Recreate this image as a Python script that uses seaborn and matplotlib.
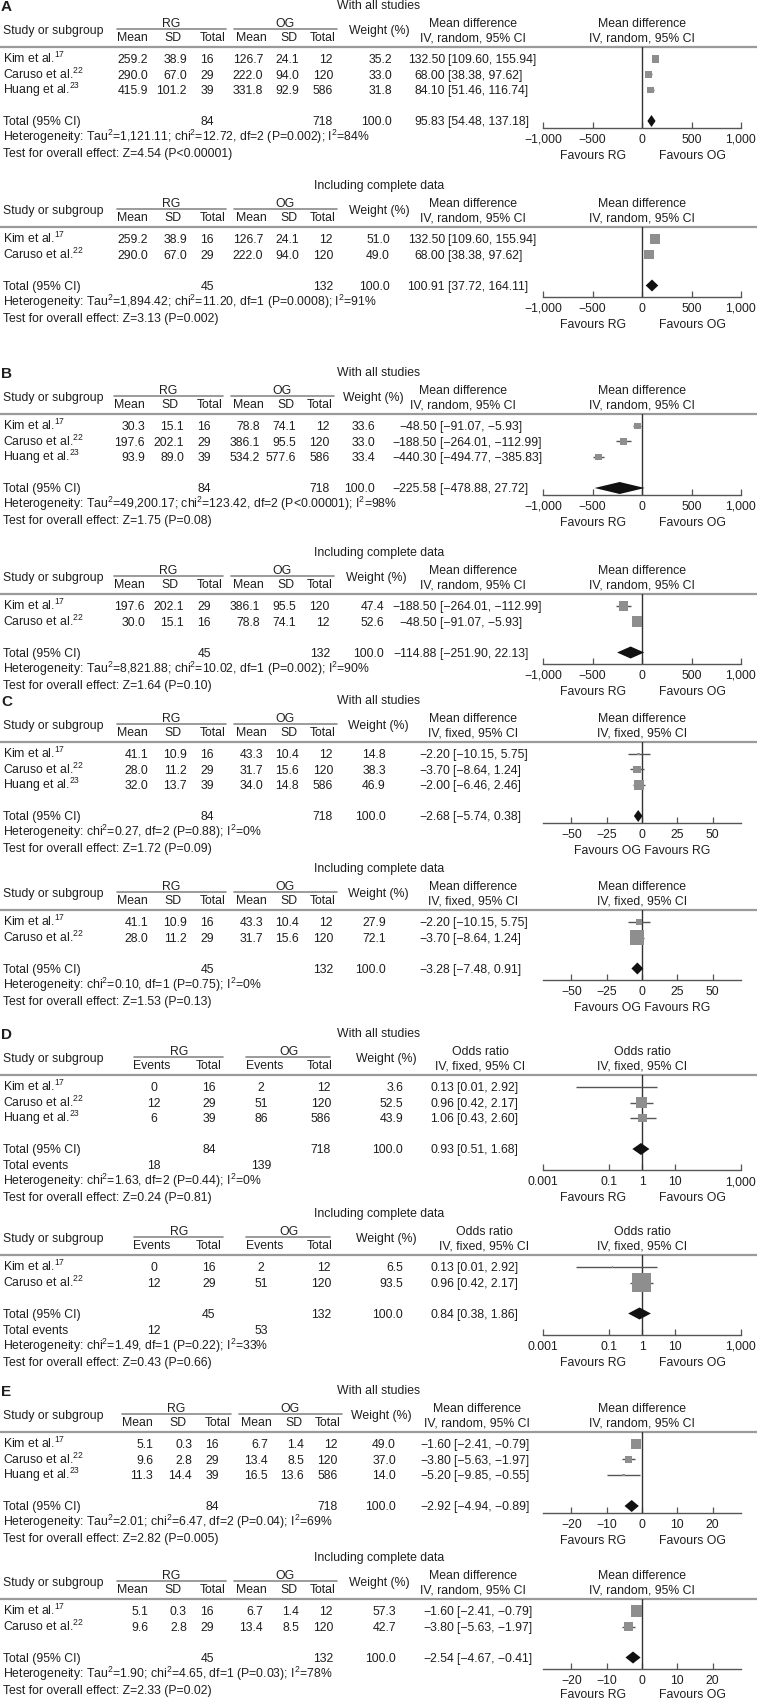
import matplotlib
matplotlib.use('Agg')
import matplotlib.pyplot as plt
import seaborn as sns
import pandas as pd

# ---------------- data ----------------
studies3 = ['Kim et al.', 'Caruso et al.', 'Huang et al.']
refs3 = ['17', '22', '23']
studies2 = ['Kim et al.', 'Caruso et al.']
refs2 = ['17', '22']

# A - with all studies
a1_rg_mean = [259.2, 290.0, 415.9]
a1_rg_sd = [38.9, 67.0, 101.2]
a1_rg_n = [16, 29, 39]
a1_og_mean = [126.7, 222.0, 331.8]
a1_og_sd = [24.1, 94.0, 92.9]
a1_og_n = [12, 120, 586]
a1_weight = [35.2, 33.0, 31.8]
a1_est = [132.50, 68.00, 84.10]
a1_lo = [109.60, 38.38, 51.46]
a1_hi = [155.94, 97.62, 116.74]
a1_total = [84, 718, 95.83, 54.48, 137.18]
a1_het = ['1,121.11', '12.72', '2', 'P=0.002', '84']
a1_z = ['4.54', 'P<0.00001']

# A - including complete data
a2_rg_mean = [259.2, 290.0]
a2_rg_sd = [38.9, 67.0]
a2_rg_n = [16, 29]
a2_og_mean = [126.7, 222.0]
a2_og_sd = [24.1, 94.0]
a2_og_n = [12, 120]
a2_weight = [51.0, 49.0]
a2_est = [132.50, 68.00]
a2_lo = [109.60, 38.38]
a2_hi = [155.94, 97.62]
a2_total = [45, 132, 100.91, 37.72, 164.11]
a2_het = ['1,894.42', '11.20', '1', 'P=0.0008', '91']
a2_z = ['3.13', 'P=0.002']

# B
b1_rg_mean = [30.3, 197.6, 93.9]
b1_rg_sd = [15.1, 202.1, 89.0]
b1_rg_n = [16, 29, 39]
b1_og_mean = [78.8, 386.1, 534.2]
b1_og_sd = [74.1, 95.5, 577.6]
b1_og_n = [12, 120, 586]
b1_weight = [33.6, 33.0, 33.4]
b1_est = [-48.50, -188.50, -440.30]
b1_lo = [-91.07, -264.01, -494.77]
b1_hi = [-5.93, -112.99, -385.83]
b1_total = [84, 718, -225.58, -478.88, 27.72]
b1_het = ['49,200.17', '123.42', '2', 'P<0.00001', '98']
b1_z = ['1.75', 'P=0.08']

b2_rg_mean = [197.6, 30.0]
b2_rg_sd = [202.1, 15.1]
b2_rg_n = [29, 16]
b2_og_mean = [386.1, 78.8]
b2_og_sd = [95.5, 74.1]
b2_og_n = [120, 12]
b2_weight = [47.4, 52.6]
b2_est = [-188.50, -48.50]
b2_lo = [-264.01, -91.07]
b2_hi = [-112.99, -5.93]
b2_total = [45, 132, -114.88, -251.90, 22.13]
b2_het = ['8,821.88', '10.02', '1', 'P=0.002', '90']
b2_z = ['1.64', 'P=0.10']

# C
c1_rg_mean = [41.1, 28.0, 32.0]
c1_rg_sd = [10.9, 11.2, 13.7]
c1_rg_n = [16, 29, 39]
c1_og_mean = [43.3, 31.7, 34.0]
c1_og_sd = [10.4, 15.6, 14.8]
c1_og_n = [12, 120, 586]
c1_weight = [14.8, 38.3, 46.9]
c1_est = [-2.20, -3.70, -2.00]
c1_lo = [-10.15, -8.64, -6.46]
c1_hi = [5.75, 1.24, 2.46]
c1_total = [84, 718, -2.68, -5.74, 0.38]
c1_het = [None, '0.27', '2', 'P=0.88', '0']
c1_z = ['1.72', 'P=0.09']

c2_rg_mean = [41.1, 28.0]
c2_rg_sd = [10.9, 11.2]
c2_rg_n = [16, 29]
c2_og_mean = [43.3, 31.7]
c2_og_sd = [10.4, 15.6]
c2_og_n = [12, 120]
c2_weight = [27.9, 72.1]
c2_est = [-2.20, -3.70]
c2_lo = [-10.15, -8.64]
c2_hi = [5.75, 1.24]
c2_total = [45, 132, -3.28, -7.48, 0.91]
c2_het = [None, '0.10', '1', 'P=0.75', '0']
c2_z = ['1.53', 'P=0.13']

# D (odds ratio)
d1_rg_ev = [0, 12, 6]
d1_rg_n = [16, 29, 39]
d1_og_ev = [2, 51, 86]
d1_og_n = [12, 120, 586]
d1_weight = [3.6, 52.5, 43.9]
d1_est = [0.13, 0.96, 1.06]
d1_lo = [0.01, 0.42, 0.43]
d1_hi = [2.92, 2.17, 2.60]
d1_total = [84, 718, 0.93, 0.51, 1.68]
d1_events = [18, 139]
d1_het = [None, '1.63', '2', 'P=0.44', '0']
d1_z = ['0.24', 'P=0.81']

d2_rg_ev = [0, 12]
d2_rg_n = [16, 29]
d2_og_ev = [2, 51]
d2_og_n = [12, 120]
d2_weight = [6.5, 93.5]
d2_est = [0.13, 0.96]
d2_lo = [0.01, 0.42]
d2_hi = [2.92, 2.17]
d2_total = [45, 132, 0.84, 0.38, 1.86]
d2_events = [12, 53]
d2_het = [None, '1.49', '1', 'P=0.22', '33']
d2_z = ['0.43', 'P=0.66']

# E
e1_rg_mean = [5.1, 9.6, 11.3]
e1_rg_sd = [0.3, 2.8, 14.4]
e1_rg_n = [16, 29, 39]
e1_og_mean = [6.7, 13.4, 16.5]
e1_og_sd = [1.4, 8.5, 13.6]
e1_og_n = [12, 120, 586]
e1_weight = [49.0, 37.0, 14.0]
e1_est = [-1.60, -3.80, -5.20]
e1_lo = [-2.41, -5.63, -9.85]
e1_hi = [-0.79, -1.97, -0.55]
e1_total = [84, 718, -2.92, -4.94, -0.89]
e1_het = ['2.01', '6.47', '2', 'P=0.04', '69']
e1_z = ['2.82', 'P=0.005']

e2_rg_mean = [5.1, 9.6]
e2_rg_sd = [0.3, 2.8]
e2_rg_n = [16, 29]
e2_og_mean = [6.7, 13.4]
e2_og_sd = [1.4, 8.5]
e2_og_n = [12, 120]
e2_weight = [57.3, 42.7]
e2_est = [-1.60, -3.80]
e2_lo = [-2.41, -5.63]
e2_hi = [-0.79, -1.97]
e2_total = [45, 132, -2.54, -4.67, -0.41]
e2_het = ['1.90', '4.65', '1', 'P=0.03', '78']
e2_z = ['2.33', 'P=0.02']

# axis ticks
big_ticks = [-1000, -500, 0, 500, 1000]
big_labels = ['\u22121,000', '\u2212500', '0', '500', '1,000']
c_ticks = [-50, -25, 0, 25, 50]
c_labels = ['\u221250', '\u221225', '0', '25', '50']
d_ticks = [0.001, 0.1, 1, 10, 1000]
d_labels = ['0.001', '0.1', '1', '10', '1,000']
e_ticks = [-20, -10, 0, 10, 20]
e_labels = ['\u221220', '\u221210', '0', '10', '20']

# ---------------- style ----------------
sns.set_theme(style='white')
base_font = 'Liberation Sans'
FS = 8.8
plt.rcParams['font.family'] = [base_font, 'DejaVu Sans']
plt.rcParams['mathtext.fontset'] = 'custom'
plt.rcParams['mathtext.rm'] = base_font

TXT = '#1e1e1e'
SQ = '#8e8e8e'
W, H = 757, 1700
X0, X1, XZ = 543, 741, 642   # plot area in pixels

fig = plt.figure(figsize=(W / 100, H / 100), dpi=100)
ax = fig.add_axes([0, 0, 1, 1])
ax.set_xlim(0, W)
ax.set_ylim(H, 0)
ax.axis('off')


def put(x, y, s, ha='left', size=None, **kw):
    ax.text(x, y + 4.4, s, ha=ha, va='baseline', fontsize=size or FS, color=TXT, **kw)


def sup(s):
    return '$^{\\mathregular{' + s + '}}$'


def num(v, d):
    return f'{v:,.{d}f}'.replace('-', '\u2212')


def block(b):
    t, dx = b['t'], b['dx']
    h = t + 42
    n = len(b['est'])
    rows = [h + 12 + 15.5 * i for i in range(n)]
    tot = rows[-1] + 31
    md = b['kind'] == 'md'

    if b.get('letter'):
        ax.text(1, t + 6, b['letter'], fontsize=11, fontweight='bold', color=TXT, va='baseline')
    put(379, t, b['title'], 'center')

    if md:
        gc = [171, 285]
        gl = [(117, 226), (234, 337)]
        heads = ['Mean', 'SD', 'Total', 'Mean', 'SD', 'Total']
        hx = [132, 173, 213, 251, 289, 323]
        vx = [148, 187, 214, 263, 299, 333]
        al = ['right'] * 6
        dec = [1, 1, 0, 1, 1, 0]
        ncol_rg, ncol_og = 2, 5
        eff = 'Mean difference'
    else:
        gc = [179, 289]
        gl = [(134, 223), (246, 330)]
        heads = ['Events', 'Total', 'Events', 'Total']
        hx = [152, 209, 265, 320]
        vx = [154, 209, 261, 331]
        al = ['center', 'center', 'center', 'right']
        dec = [0, 0, 0, 0]
        ncol_rg, ncol_og = 1, 3
        eff = 'Odds ratio'

    # header
    put(3, t + 25, 'Study or subgroup')
    for g, c, (a, e) in zip(['RG', 'OG'], gc, gl):
        put(c + dx, t + 18, g, 'center')
        ax.plot([a + dx, e + dx], [t + 24, t + 24], color='#8a8a8a', lw=1.2)
    for s, x in zip(heads, hx):
        put(x + dx, t + 32, s, 'center')
    put(b['wc'], t + 25, 'Weight (%)', 'center')
    ci_head = f"IV, {b['model']}, 95% CI"
    for cx in [b['ec'], XZ]:
        put(cx, t + 18, eff, 'center')
        put(cx, t + 32, ci_head, 'center')
    ax.plot([0, W], [h, h], color='#9a9a9a', lw=1.6)

    # study rows
    for i, y in enumerate(rows):
        put(3, y, b['names'][i] + sup(b['refs'][i]))
        for col, x, a, d in zip(b['cols'], vx, al, dec):
            put(x + dx, y, num(col[i], d), a)
        put(b['wr'], y, num(b['weight'][i], 1), 'right')
        put(b['br'] - 3, y, num(b['est'][i], 2), 'right')
        put(b['br'], y, '[' + num(b['lo'][i], 2) + ', ' + num(b['hi'][i], 2) + ']')

    # total rows
    tt = b['total']
    put(3, tot, 'Total (95% CI)')
    put(vx[ncol_rg] + dx, tot, str(tt[0]), al[ncol_rg])
    put(vx[ncol_og] + dx, tot, str(tt[1]), al[ncol_og])
    put(b['wr'], tot, '100.0', 'right')
    put(b['br'] - 3, tot, num(tt[2], 2), 'right')
    put(b['br'], tot, '[' + num(tt[3], 2) + ', ' + num(tt[4], 2) + ']')
    yy = tot
    if not md:
        yy += 16
        put(3, yy, 'Total events')
        put(vx[0] + dx, yy, str(b['events'][0]), 'center')
        put(vx[2] + dx, yy, str(b['events'][1]), 'center')
    tau, chi, df, p, i2 = b['het']
    het = 'Heterogeneity: '
    if tau is not None:
        het += 'Tau' + sup('2') + '=' + tau + '; '
    het += 'chi' + sup('2') + '=' + chi + ', df=' + df + ' (' + p + '); I' + sup('2') + '=' + i2 + '%'
    put(3, yy + 16, het)
    put(3, yy + 32, 'Test for overall effect: Z=' + b['z'][0] + ' (' + b['z'][1] + ')')

    # forest plot
    if md:
        ay = tot + (6.5 if n == 3 else 11)
    else:
        ay = tot + 21
    pax = fig.add_axes([X0 / W, 1 - ay / H, (X1 - X0) / W, (ay - h) / H])
    pax.set_facecolor('none')
    # square side grows with the study weight
    df_rows = pd.DataFrame({'est': b['est'], 'y': rows,
                            'area': [(0.2 * w * 0.72) ** 2 for w in b['weight']]})
    pax.hlines(df_rows['y'], b['lo'], b['hi'], color='#555555', lw=1, zorder=2)
    sns.scatterplot(data=df_rows, x='est', y='y', size='area', sizes=(0, 250),
                    size_norm=(0, 250), marker='s', color=SQ, linewidth=0,
                    legend=False, ax=pax, zorder=3)
    dh = 6
    pax.fill([tt[3], tt[2], tt[4], tt[2]], [tot, tot - dh, tot, tot + dh],
             color='#111111', lw=0, zorder=4)
    if b['log']:
        pax.set_xscale('log')
        ref = 1
    else:
        ref = 0
    pax.axvline(ref, color='#333333', lw=1, zorder=1)
    pax.set_xlim(b['xlim'])
    pax.set_ylim(ay, h)
    pax.set_xticks(b['ticks'])
    pax.set_xticklabels(b['tlabels'])
    pax.minorticks_off()
    pax.set_yticks([])
    pax.set_xlabel('')
    pax.set_ylabel('')
    for sp in ['top', 'left', 'right']:
        pax.spines[sp].set_visible(False)
    pax.spines['bottom'].set_color('#555555')
    pax.spines['bottom'].set_linewidth(1)
    pax.tick_params(axis='x', direction='in', length=4, width=0.9, color='#555555',
                    labelsize=FS, labelcolor=TXT, pad=4.5, bottom=True)
    fy = min(ay + 27, H - 6)
    if b['fav'] == 'split':
        put(XZ - 49, fy, 'Favours RG', 'center')
        put(XZ + 50, fy, 'Favours OG', 'center')
    else:
        put(XZ, fy, 'Favours OG Favours RG', 'center')


def md_block(t, letter, title, names, refs, cols, weight, est, lo, hi, total, het, z,
             model, xlim, ticks, tlabels, dx, wr, wc, br, ec, fav='split'):
    return dict(kind='md', t=t, letter=letter, title=title, names=names, refs=refs,
                cols=cols, weight=weight, est=est, lo=lo, hi=hi, total=total, het=het,
                z=z, model=model, xlim=xlim, ticks=ticks, tlabels=tlabels, dx=dx,
                wr=wr, wc=wc, br=br, ec=ec, fav=fav, log=False)


# C and E axes span a little wider than the outer ticks
c_lim = (-70, 70)
e_lim = (-28, 28)

T_ALL, T_COMP = 'With all studies', 'Including complete data'
blocks = [
    md_block(5, 'A', T_ALL, studies3, refs3,
             [a1_rg_mean, a1_rg_sd, a1_rg_n, a1_og_mean, a1_og_sd, a1_og_n],
             a1_weight, a1_est, a1_lo, a1_hi, a1_total, a1_het, a1_z,
             'random', (-1000, 1000), big_ticks, big_labels, 0, 392, 379, 448, 473),
    md_block(185, None, T_COMP, studies2, refs2,
             [a2_rg_mean, a2_rg_sd, a2_rg_n, a2_og_mean, a2_og_sd, a2_og_n],
             a2_weight, a2_est, a2_lo, a2_hi, a2_total, a2_het, a2_z,
             'random', (-1000, 1000), big_ticks, big_labels, 0, 390, 379, 448, 473),
    md_block(372, 'B', T_ALL, studies3, refs3,
             [b1_rg_mean, b1_rg_sd, b1_rg_n, b1_og_mean, b1_og_sd, b1_og_n],
             b1_weight, b1_est, b1_lo, b1_hi, b1_total, b1_het, b1_z,
             'random', (-1000, 1000), big_ticks, big_labels, -3, 375, 373, 440, 463),
    md_block(552, None, T_COMP, studies2, refs2,
             [b2_rg_mean, b2_rg_sd, b2_rg_n, b2_og_mean, b2_og_sd, b2_og_n],
             b2_weight, b2_est, b2_lo, b2_hi, b2_total, b2_het, b2_z,
             'random', (-1000, 1000), big_ticks, big_labels, -3, 384, 376, 440, 473),
    md_block(700, 'C', T_ALL, studies3, refs3,
             [c1_rg_mean, c1_rg_sd, c1_rg_n, c1_og_mean, c1_og_sd, c1_og_n],
             c1_weight, c1_est, c1_lo, c1_hi, c1_total, c1_het, c1_z,
             'fixed', c_lim, c_ticks, c_labels, 0, 386, 378, 453, 473, fav='joined'),
    md_block(868, None, T_COMP, studies2, refs2,
             [c2_rg_mean, c2_rg_sd, c2_rg_n, c2_og_mean, c2_og_sd, c2_og_n],
             c2_weight, c2_est, c2_lo, c2_hi, c2_total, c2_het, c2_z,
             'fixed', c_lim, c_ticks, c_labels, 0, 386, 378, 453, 473, fav='joined'),
    dict(kind='or', t=1033, letter='D', title=T_ALL, names=studies3, refs=refs3,
         cols=[d1_rg_ev, d1_rg_n, d1_og_ev, d1_og_n], weight=d1_weight, est=d1_est,
         lo=d1_lo, hi=d1_hi, total=d1_total, events=d1_events, het=d1_het, z=d1_z,
         model='fixed', xlim=(0.001, 1000), ticks=d_ticks, tlabels=d_labels, dx=0,
         wr=403, wc=386, br=457, ec=480, fav='split', log=True),
    dict(kind='or', t=1213, letter=None, title=T_COMP, names=studies2, refs=refs2,
         cols=[d2_rg_ev, d2_rg_n, d2_og_ev, d2_og_n], weight=d2_weight, est=d2_est,
         lo=d2_lo, hi=d2_hi, total=d2_total, events=d2_events, het=d2_het, z=d2_z,
         model='fixed', xlim=(0.001, 1000), ticks=d_ticks, tlabels=d_labels, dx=0,
         wr=403, wc=386, br=457, ec=484, fav='split', log=True),
    md_block(1390, 'E', T_ALL, studies3, refs3,
             [e1_rg_mean, e1_rg_sd, e1_rg_n, e1_og_mean, e1_og_sd, e1_og_n],
             e1_weight, e1_est, e1_lo, e1_hi, e1_total, e1_het, e1_z,
             'random', e_lim, e_ticks, e_labels, 5, 396, 381, 454, 477),
    md_block(1557, None, T_COMP, studies2, refs2,
             [e2_rg_mean, e2_rg_sd, e2_rg_n, e2_og_mean, e2_og_sd, e2_og_n],
             e2_weight, e2_est, e2_lo, e2_hi, e2_total, e2_het, e2_z,
             'random', e_lim, e_ticks, e_labels, 0, 396, 379, 457, 473),
]

for b in blocks:
    block(b)

fig.savefig('out.png', dpi=100, facecolor='white')
